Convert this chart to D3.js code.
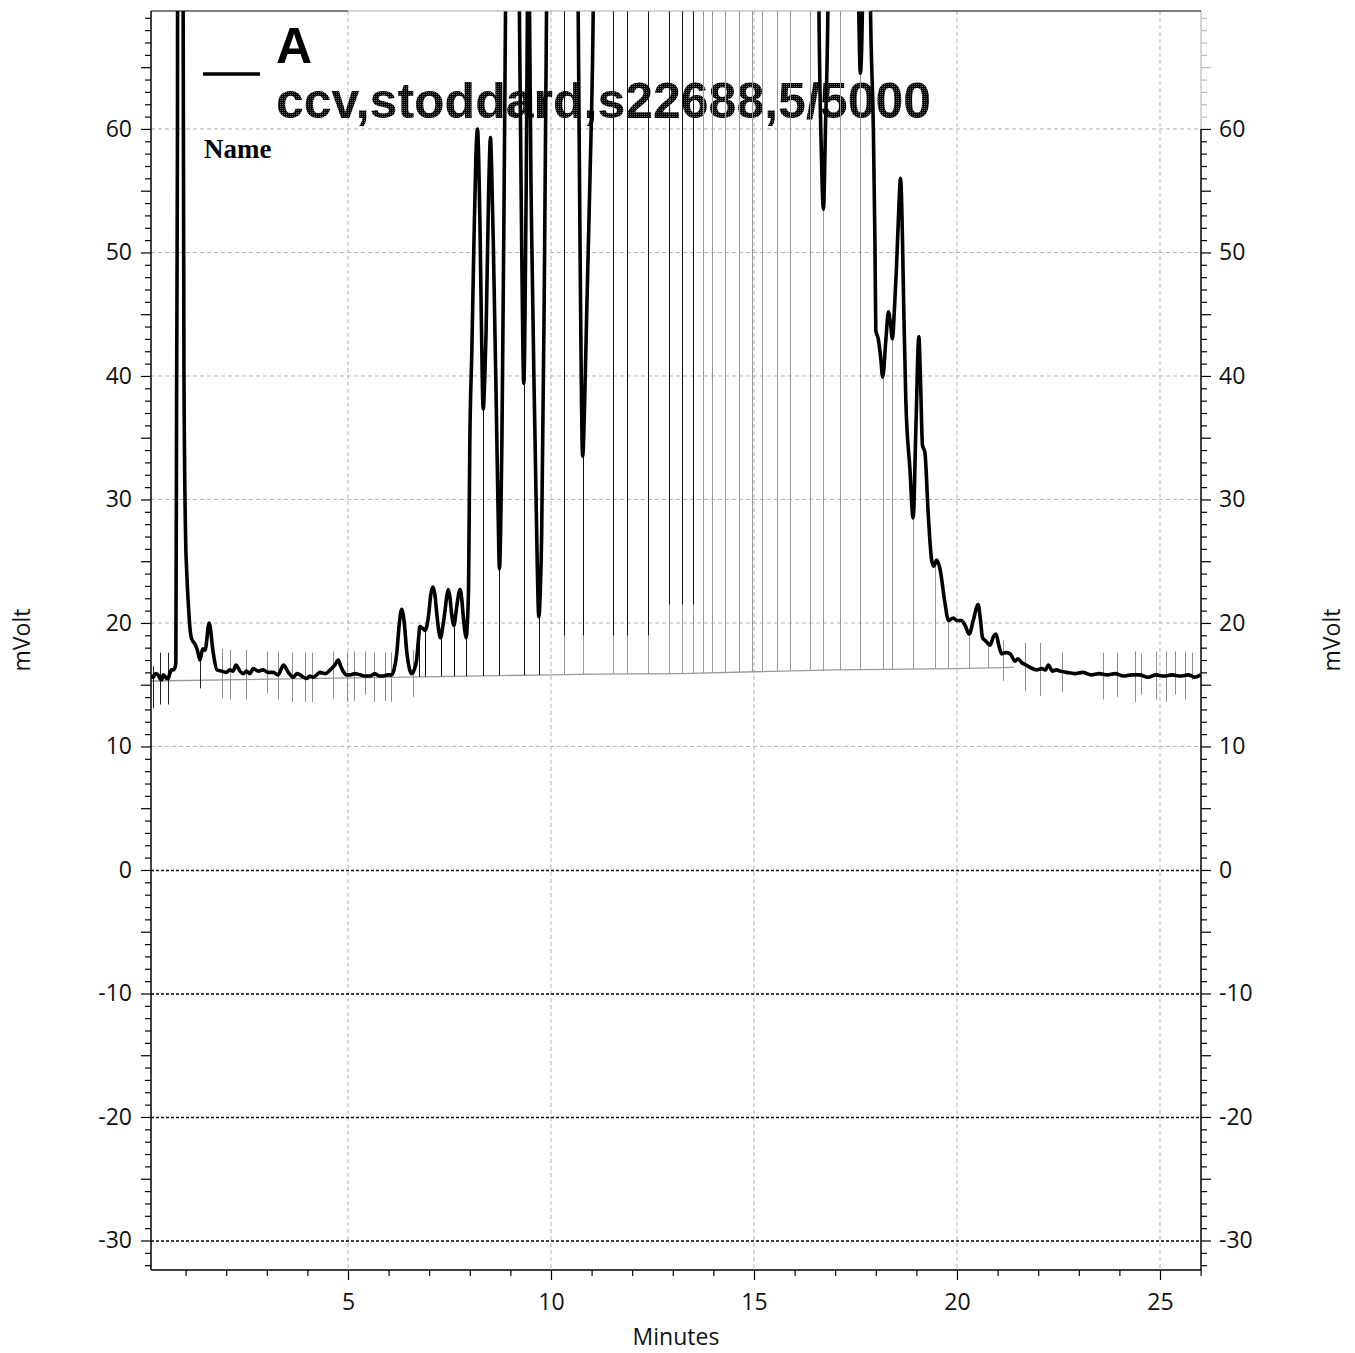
<!DOCTYPE html>
<html><head><meta charset="utf-8">
<script src="https://cdn.jsdelivr.net/npm/d3@7"></script>
<style>body{margin:0;background:#fff}svg{display:block}</style>
</head><body>
<svg id="chart" width="1355" height="1353"></svg>
<script>
// ---------- data (minutes, mV) ----------
const timeMin = [
0.15,0.20,0.26,0.32,0.37,0.41,0.45,0.49,0.53,0.57,
0.61,0.65,0.70,0.74,0.76,0.78,0.80,0.82,0.87,0.92,
0.94,0.96,1.00,1.03,1.07,1.11,1.15,1.23,1.29,1.355,
1.42,1.48,1.58,1.68,1.77,1.89,2.00,2.09,2.17,2.24,
2.34,2.42,2.50,2.58,2.67,2.79,2.91,3.03,3.16,3.28,
3.41,3.53,3.65,3.74,3.82,3.90,3.98,4.06,4.15,4.23,
4.31,4.44,4.56,4.68,4.76,4.82,4.88,4.96,5.05,5.17,
5.30,5.42,5.54,5.66,5.78,5.87,5.98,6.08,6.14,6.20,
6.26,6.32,6.38,6.45,6.52,6.57,6.63,6.69,6.74,6.77,
6.83,6.90,6.98,7.04,7.09,7.14,7.18,7.23,7.28,7.33,
7.39,7.43,7.47,7.51,7.55,7.61,7.65,7.69,7.76,7.80,
7.84,7.88,7.91,7.94,7.97,8.00,8.05,8.09,8.15,8.19,
8.22,8.25,8.29,8.33,8.37,8.40,8.46,8.51,8.54,8.58,
8.65,8.70,8.73,8.76,8.79,8.83,8.88,8.95,9.05,9.15,
9.22,9.28,9.33,9.38,9.42,9.445,9.47,9.52,9.61,9.66,
9.70,9.74,9.77,9.83,9.89,10.00,10.15,10.32,10.50,10.67,
10.72,10.78,10.83,10.88,10.96,11.04,11.20,11.53,11.70,11.88,
12.10,12.40,12.60,12.91,13.05,13.22,13.35,13.49,13.60,13.74,
13.85,13.97,14.10,14.29,14.45,14.64,14.80,14.94,15.05,15.19,
15.35,15.56,15.72,15.89,16.10,16.38,16.50,16.60,16.66,16.71,
16.76,16.82,16.95,17.12,17.35,17.58,17.62,17.67,17.75,17.87,
17.94,17.98,18.00,18.06,18.12,18.17,18.25,18.31,18.36,18.41,
18.46,18.51,18.56,18.61,18.66,18.69,18.74,18.84,18.92,18.99,
19.06,19.10,19.15,19.21,19.29,19.38,19.43,19.50,19.58,19.70,
19.79,19.91,20.00,20.11,20.20,20.30,20.40,20.52,20.58,20.63,
20.72,20.81,20.90,20.96,21.03,21.10,21.20,21.31,21.43,21.50,
21.59,21.70,21.80,21.96,22.09,22.18,22.25,22.35,22.45,22.54,
22.70,22.90,23.10,23.30,23.50,23.70,23.90,24.10,24.30,24.50,
24.70,24.90,25.10,25.30,25.50,25.70,25.85,26.00];
const mVolt = [
15.8,15.6,15.9,15.8,15.5,15.4,15.8,15.7,15.5,15.5,
15.9,16.2,16.2,16.4,16.8,40,60,150,400,150,
69,40,27,24,21.4,19.5,18.7,18.3,17.8,17.0,
17.9,17.8,20.0,17.6,16.2,16.1,16.0,16.2,16.1,16.6,
16.1,15.9,16.1,15.9,16.3,16.1,16.2,16.0,16.0,15.8,
16.6,16.0,15.6,15.9,15.8,15.6,15.5,15.7,15.6,15.8,
16.0,15.9,16.2,16.6,17.0,16.5,16.1,15.8,15.8,15.9,
15.8,15.7,15.7,15.9,15.7,15.7,15.8,15.8,16.3,17.5,
19.8,21.1,20.2,17.6,16.2,15.9,16.2,17.0,18.8,19.7,
19.6,19.4,20.5,22.3,22.9,22.3,21.0,19.5,18.8,19.6,
21.0,22.1,22.7,22.1,20.8,19.8,20.6,21.6,22.7,22.0,
20.5,19.3,18.8,20.0,23.0,34.4,42,48.8,57.8,60.0,
57.5,52.4,43.4,37.3,40.0,43.4,54.2,59.3,56.5,50.6,
38.0,28.5,24.4,27.5,34.4,48.8,69.6,120,180,110,
70,50,39.4,52,70,95,70,52.4,34.4,25,
20.5,23,27.1,45.2,69.6,150,110,85,130,69.6,
48.8,33.5,38,45.2,56,69.6,160,90,150,90,
200,95,180,100,170,95,150,100,160,100,
170,100,180,100,190,100,180,100,170,100,
190,100,180,100,200,90,130,69.6,58,53.5,
60,69.6,140,90,150,69.6,64.5,69.6,120,69.6,
60,50.6,43.7,43.0,41.5,39.9,43.0,45.2,44.3,43.0,
45.5,48.8,53,56.0,50.6,45.2,38.0,32.5,28.5,36.1,
43.2,39.8,34.4,33.8,28.9,25.0,24.6,25.1,24.4,21.7,
20.2,20.4,20.2,20.2,19.8,19.1,20.2,21.5,20.2,18.8,
18.5,18.2,18.9,19.1,18.2,17.5,17.6,17.5,16.9,17.1,
16.8,16.6,16.4,16.2,16.3,16.2,16.6,16.1,16.2,16.1,
16.0,15.9,16.0,15.8,15.9,15.8,15.9,15.7,15.8,15.8,
15.6,15.8,15.7,15.8,15.7,15.8,15.6,15.8];

// integration baseline
const baseT = [0.15, 6.0, 8.0, 10.0, 11.0, 13.2, 15.0, 17.0, 20.0, 21.4];
const baseV = [15.3, 15.6, 15.7, 15.8, 15.85, 15.9, 16.05, 16.2, 16.3, 16.4];

// peak drop lines (valley times)
const dropT = [6.76,6.90,7.28,7.61,7.91,8.33,8.73,9.33,9.70,10.32,10.78,11.53,11.88,12.40,
  12.91,13.22,13.49,13.74,13.97,14.29,14.64,14.94,15.19,15.56,15.89,16.38,16.71,17.12,
  17.62,18.17,18.41,18.92,19.45,19.79,20.30,20.77];

// peak start/end markers in the flat parts
const markT  = [0.19,0.37,0.57,1.355,1.89,2.09,2.50,3.00,3.28,3.61,3.94,4.11,4.62,4.97,5.15,5.42,5.64,5.90,6.05,6.61,
  21.13,21.67,22.04,22.59,23.60,23.94,24.38,24.53,24.90,25.15,25.37,25.62,25.80];
const markHi = [16.5,17.6,17.6,17.6,17.9,17.8,17.8,17.7,17.7,17.6,17.6,17.6,17.7,17.6,17.7,17.7,17.6,17.6,17.6,17.8,
  18.6,18.4,18.4,17.6,17.6,17.6,17.7,17.5,17.7,17.7,17.7,17.7,17.6];
const markLo = [13.1,13.4,13.4,14.7,13.9,13.8,13.8,14.3,13.8,13.6,13.6,13.6,13.9,13.6,13.7,14.2,13.6,13.7,13.6,14.0,
  15.3,14.5,14.1,14.4,13.8,14.0,13.6,14.2,13.8,13.6,14.2,13.8,15.4];

const xTickVals = [5, 10, 15, 20, 25];
const yTickVals = [-30, -20, -10, 0, 10, 20, 30, 40, 50, 60];
const legendTitle = "A";
const legendSub = "ccv,stoddard,s22688,5/5000";
const legendName = "Name";
const xLabel = "Minutes";
const yLabel = "mVolt";

// ---------- layout ----------
const m = {l:151, r:1201, t:11, b:1270};
const x = d3.scaleLinear().domain([0.148, 26.01]).range([m.l, m.r]);
const y = d3.scaleLinear().domain([-32.39, 69.55]).range([m.b, m.t]);
const yTop = y.domain()[1];
const FONT = "'Open Sans', 'DejaVu Sans', sans-serif";
const fmt = d => String(d);   // plain hyphen-minus like the original

const svg = d3.select("#chart");
const defs = svg.append("defs");
defs.append("clipPath").attr("id","plotClip").append("rect")
  .attr("x", m.l).attr("y", m.t).attr("width", m.r-m.l).attr("height", m.b-m.t);
const pat = defs.append("pattern").attr("id","dither").attr("width",2).attr("height",2)
  .attr("patternUnits","userSpaceOnUse");
pat.append("rect").attr("width",2).attr("height",2).attr("fill","#000");
pat.append("rect").attr("width",1).attr("height",1).attr("fill","#5a5a5a");

// interpolation helpers
function interp(ts, vs, t){
  if (t <= ts[0]) return vs[0];
  for (let i=1;i<ts.length;i++){
    if (t <= ts[i]){ const f=(t-ts[i-1])/(ts[i]-ts[i-1]); return vs[i-1]+f*(vs[i]-vs[i-1]); }
  }
  return vs[vs.length-1];
}

// ---------- grid ----------
const grid = svg.append("g");
grid.selectAll(".gx").data(xTickVals).join("line")
  .attr("x1", d=>x(d)).attr("x2", d=>x(d)).attr("y1", m.t).attr("y2", m.b)
  .attr("stroke","#b3b3b3").attr("stroke-width",1).attr("stroke-dasharray","4,3");
grid.selectAll(".gy").data(yTickVals.filter(v=>v>=10)).join("line")
  .attr("x1", m.l).attr("x2", m.r).attr("y1", d=>y(d)).attr("y2", d=>y(d))
  .attr("stroke","#b3b3b3").attr("stroke-width",1).attr("stroke-dasharray","4,3");
grid.selectAll(".gy0").data(yTickVals.filter(v=>v<=0)).join("line")
  .attr("x1", m.l).attr("x2", m.r).attr("y1", d=>y(d)+0.5).attr("y2", d=>y(d)+0.5)
  .attr("stroke","#000").attr("stroke-width",1.5).attr("stroke-dasharray","3,2");

// ---------- legend text (under the traces) ----------
const leg = svg.append("g");
leg.append("text").attr("x",276).attr("y",63).text(legendTitle)
  .attr("font-family","'Liberation Sans', Arial, sans-serif").attr("font-weight","bold")
  .attr("font-size",50).attr("fill","#000");
leg.append("text").attr("x",276).attr("y",118).text(legendSub)
  .attr("font-family","'Liberation Sans', Arial, sans-serif").attr("font-weight","bold")
  .attr("font-size",50).attr("fill","url(#dither)");
leg.append("text").attr("x",204).attr("y",158).text(legendName)
  .attr("font-family","'Liberation Serif', 'Times New Roman', serif").attr("font-weight","bold")
  .attr("font-size",27).attr("fill","#000");

// ---------- traces ----------
const plot = svg.append("g").attr("clip-path","url(#plotClip)");

// baseline
plot.append("path")
  .datum(d3.range(baseT.length))
  .attr("d", d3.line().x(i=>x(baseT[i])).y(i=>y(baseV[i])))
  .attr("fill","none").attr("stroke","#9a9a9a").attr("stroke-width",1.3);

// markers
plot.selectAll(".mk").data(d3.range(markT.length)).join("line")
  .attr("x1", i=>Math.round(x(markT[i]))+0.5).attr("x2", i=>Math.round(x(markT[i]))+0.5)
  .attr("y1", i=>y(markHi[i])).attr("y2", i=>y(markLo[i]))
  .attr("stroke", (i)=> markT[i] < 1.5 ? "#222" : "#8f8f8f").attr("stroke-width",1);

// drop lines: gray full length, darker upper part for the early peaks
const drops = dropT.map(t=>{
  const top = Math.min(interp(timeMin, mVolt, t), yTop);
  const bot = interp(baseT, baseV, t);
  let dark = null;
  if (t < 10) dark = bot;
  else if (t < 12.6) dark = 19;
  else if (t < 13.6) dark = 21.5;
  return {t, top, bot, dark};
});
plot.selectAll(".dl").data(drops).join("line")
  .attr("x1", d=>Math.round(x(d.t))+0.5).attr("x2", d=>Math.round(x(d.t))+0.5)
  .attr("y1", d=>y(d.top)).attr("y2", d=>y(d.bot))
  .attr("stroke","#999").attr("stroke-width",1);
plot.selectAll(".dd").data(drops.filter(d=>d.dark!==null && d.dark<d.top)).join("line")
  .attr("x1", d=>Math.round(x(d.t))+0.5).attr("x2", d=>Math.round(x(d.t))+0.5)
  .attr("y1", d=>y(d.top)).attr("y2", d=>y(Math.max(d.dark, d.bot)))
  .attr("stroke","#111").attr("stroke-width",1);

// chromatogram
plot.append("path")
  .datum(d3.range(timeMin.length))
  .attr("d", d3.line().x(i=>x(timeMin[i])).y(i=>y(mVolt[i])).curve(d3.curveMonotoneX))
  .attr("fill","none").attr("stroke","#000").attr("stroke-width",3.6)
  .attr("stroke-linejoin","round");

// legend swatch
svg.append("line").attr("x1",203).attr("x2",260).attr("y1",74).attr("y2",74)
  .attr("stroke","#000").attr("stroke-width",3.5);

// ---------- axes ----------
const allInts = d3.range(Math.ceil(y.domain()[0]), Math.floor(y.domain()[1])+1);
const minorY = allInts.filter(v => v % 5 !== 0);
const midY = allInts.filter(v => v % 5 === 0 && v % 10 !== 0);
const xInts = d3.range(1, 27).filter(v => v % 5 !== 0);

function styleAxis(g){
  g.select(".domain").remove();
  g.selectAll("line").attr("stroke","#000").attr("stroke-width",1.2);
  g.selectAll("text").attr("font-family",FONT).attr("font-size",23).attr("fill","#111");
}
// left
svg.append("g").attr("transform",`translate(${m.l},0)`)
  .call(d3.axisLeft(y).tickValues(minorY).tickSize(6).tickFormat("")).call(styleAxis);
svg.append("g").attr("transform",`translate(${m.l},0)`)
  .call(d3.axisLeft(y).tickValues(midY).tickSize(10).tickFormat("")).call(styleAxis);
svg.append("g").attr("transform",`translate(${m.l},0)`)
  .call(d3.axisLeft(y).tickValues(yTickVals).tickSize(10).tickPadding(9).tickFormat(fmt)).call(styleAxis);
// right
const rightGroups = [];
rightGroups.push(svg.append("g").attr("transform",`translate(${m.r},0)`)
  .call(d3.axisRight(y).tickValues(minorY).tickSize(6).tickFormat("")).call(styleAxis));
rightGroups.push(svg.append("g").attr("transform",`translate(${m.r},0)`)
  .call(d3.axisRight(y).tickValues(midY).tickSize(10).tickFormat("")).call(styleAxis));
rightGroups.push(svg.append("g").attr("transform",`translate(${m.r},0)`)
  .call(d3.axisRight(y).tickValues(yTickVals).tickSize(10).tickPadding(8).tickFormat(fmt)).call(styleAxis));
rightGroups.forEach(g => g.selectAll(".tick").filter(d => d > 60).select("line").attr("stroke","#bbb"));
// bottom
svg.append("g").attr("transform",`translate(0,${m.b})`)
  .call(d3.axisBottom(x).tickValues(xInts).tickSize(6).tickFormat("")).call(styleAxis);
svg.append("g").attr("transform",`translate(0,${m.b})`)
  .call(d3.axisBottom(x).tickValues(xTickVals).tickSize(10).tickPadding(14).tickFormat(fmt)).call(styleAxis);

// frame
const frame = svg.append("g").attr("fill","none");
frame.append("line").attr("x1",m.l).attr("x2",m.l).attr("y1",m.t).attr("y2",m.b).attr("stroke","#000").attr("stroke-width",1.5);
frame.append("line").attr("x1",m.l).attr("x2",m.r).attr("y1",m.b).attr("y2",m.b).attr("stroke","#000").attr("stroke-width",1.5);
frame.append("line").attr("x1",m.r).attr("x2",m.r).attr("y1",m.t).attr("y2",y(60)).attr("stroke","#c8c8c8").attr("stroke-width",1.5);
frame.append("line").attr("x1",m.r).attr("x2",m.r).attr("y1",y(60)).attr("y2",m.b).attr("stroke","#000").attr("stroke-width",1.5);
frame.append("line").attr("x1",m.l).attr("x2",x(5)).attr("y1",m.t).attr("y2",m.t).attr("stroke","#000").attr("stroke-width",1.2);
frame.append("line").attr("x1",x(5)).attr("x2",x(17.87)).attr("y1",m.t).attr("y2",m.t).attr("stroke","#aaa").attr("stroke-width",1.2);
frame.append("line").attr("x1",x(17.87)).attr("x2",m.r).attr("y1",m.t).attr("y2",m.t).attr("stroke","#000").attr("stroke-width",1.2);

// axis titles
svg.append("text").attr("x",(m.l+m.r)/2).attr("y",1345).attr("text-anchor","middle")
  .attr("font-family",FONT).attr("font-size",23).attr("fill","#111").text(xLabel);
svg.append("text").attr("transform","translate(30,640) rotate(-90)").attr("text-anchor","middle")
  .attr("font-family",FONT).attr("font-size",23).attr("fill","#111").text(yLabel);
svg.append("text").attr("transform","translate(1340,640) rotate(-90)").attr("text-anchor","middle")
  .attr("font-family",FONT).attr("font-size",23).attr("fill","#111").text(yLabel);
</script>
</body></html>
